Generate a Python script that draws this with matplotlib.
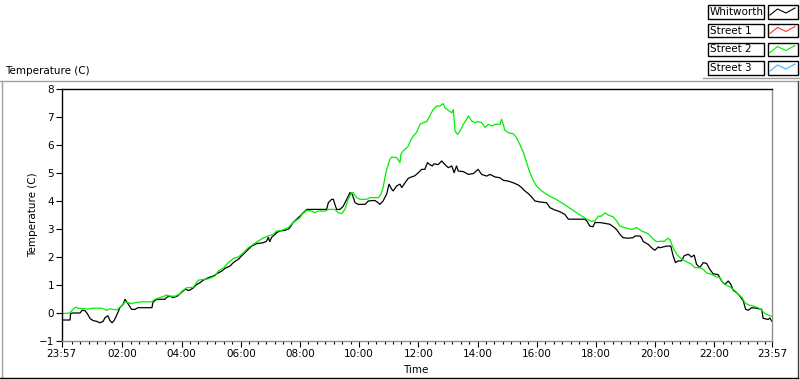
import matplotlib
matplotlib.use("Agg")
import matplotlib.pyplot as plt
from matplotlib.patches import Rectangle
from matplotlib.lines import Line2D

# =========================================================
# DATA  (time in hours after midnight, 23:57 the day before = -0.05)
# =========================================================

whit_t = [
    -0.05, 0.23, 0.25, 0.33, 0.57, 0.64, 0.74, 0.80, 0.86, 0.91,
    1.01, 1.14, 1.24, 1.35, 1.41, 1.51, 1.58, 1.65, 1.72, 1.82,
    1.92, 2.02, 2.09, 2.18, 2.26, 2.31, 2.43, 2.53, 3.00, 3.03,
    3.10, 3.17, 3.44, 3.51, 3.61, 3.71, 3.85, 3.95, 4.12, 4.25,
    4.40, 4.51, 4.62, 4.73, 4.90, 5.07, 5.19, 5.36, 5.47, 5.64,
    5.75, 5.92, 6.03, 6.14, 6.25, 6.37, 6.54, 6.76, 6.87, 6.93,
    6.98, 7.04, 7.16, 7.21, 7.33, 7.49, 7.61, 7.66, 7.77, 7.89,
    8.00, 8.11, 8.23, 8.90, 8.96, 9.07, 9.13, 9.18, 9.24, 9.35,
    9.46, 9.58, 9.69, 9.77, 9.86, 9.97, 10.20, 10.31, 10.53, 10.64,
    10.70, 10.81, 10.93, 11.01, 11.10, 11.15, 11.27, 11.38, 11.44, 11.55,
    11.66, 11.77, 11.88, 11.99, 12.11, 12.22, 12.31, 12.39, 12.47, 12.53,
    12.67, 12.79, 12.90, 13.01, 13.13, 13.21, 13.29, 13.35, 13.52, 13.69,
    13.86, 14.02, 14.14, 14.31, 14.42, 14.59, 14.76, 14.87, 15.04, 15.21,
    15.38, 15.49, 15.60, 15.72, 15.83, 15.94, 16.14, 16.33, 16.45, 16.61,
    16.78, 16.95, 17.07, 17.63, 17.69, 17.80, 17.90, 17.97, 18.14, 18.31,
    18.47, 18.59, 18.70, 18.81, 18.92, 19.09, 19.26, 19.32, 19.49, 19.54,
    19.60, 19.77, 19.88, 19.99, 20.11, 20.16, 20.39, 20.53, 20.61, 20.69,
    20.78, 20.89, 20.98, 21.12, 21.23, 21.32, 21.40, 21.51, 21.63, 21.74,
    21.85, 21.96, 22.13, 22.25, 22.36, 22.47, 22.56, 22.64, 22.75, 22.86,
    22.98, 23.06, 23.15, 23.26, 23.43, 23.60, 23.65, 23.82, 23.88, 23.94,
]
whit_v = [
    -0.25, -0.25, -0.02, 0.00, 0.00, 0.10, 0.08, 0.00, -0.10, -0.20,
    -0.27, -0.30, -0.35, -0.30, -0.17, -0.10, -0.27, -0.35, -0.27, -0.05,
    0.20, 0.30, 0.49, 0.35, 0.21, 0.13, 0.13, 0.19, 0.19, 0.37,
    0.45, 0.49, 0.49, 0.57, 0.60, 0.55, 0.60, 0.69, 0.85, 0.80,
    0.90, 1.02, 1.08, 1.17, 1.26, 1.32, 1.40, 1.50, 1.60, 1.68,
    1.80, 1.92, 2.04, 2.15, 2.27, 2.39, 2.48, 2.51, 2.56, 2.70,
    2.55, 2.70, 2.81, 2.87, 2.93, 2.95, 3.00, 3.05, 3.23, 3.35,
    3.46, 3.58, 3.70, 3.70, 3.94, 4.06, 4.06, 3.88, 3.70, 3.70,
    3.81, 4.06, 4.30, 4.24, 3.94, 3.88, 3.88, 4.00, 4.02, 3.94,
    3.88, 4.00, 4.25, 4.60, 4.42, 4.36, 4.54, 4.60, 4.48, 4.65,
    4.81, 4.86, 4.90, 5.00, 5.13, 5.13, 5.37, 5.30, 5.25, 5.33,
    5.30, 5.43, 5.30, 5.19, 5.25, 5.01, 5.25, 5.07, 5.05, 4.95,
    4.98, 5.13, 4.95, 4.89, 4.95, 4.86, 4.83, 4.74, 4.71, 4.65,
    4.57, 4.48, 4.36, 4.26, 4.14, 4.00, 3.96, 3.94, 3.76, 3.68,
    3.62, 3.52, 3.35, 3.35, 3.29, 3.10, 3.08, 3.23, 3.23, 3.20,
    3.17, 3.08, 2.98, 2.81, 2.69, 2.67, 2.69, 2.75, 2.75, 2.69,
    2.55, 2.45, 2.33, 2.24, 2.36, 2.33, 2.39, 2.39, 2.04, 1.80,
    1.86, 1.86, 2.04, 2.10, 2.00, 2.07, 1.74, 1.62, 1.80, 1.77,
    1.56, 1.40, 1.37, 1.14, 1.02, 1.14, 1.02, 0.81, 0.73, 0.61,
    0.43, 0.13, 0.10, 0.19, 0.17, 0.13, -0.19, -0.23, -0.18, -0.29,
]

st2_t = [
    -0.05, 0.00, 0.23, 0.33, 0.42, 0.50, 0.85, 1.01, 1.30, 1.47,
    1.58, 1.81, 1.92, 2.02, 2.09, 2.20, 2.31, 2.43, 2.65, 2.99,
    3.10, 3.33, 3.50, 3.61, 3.78, 3.95, 4.00, 4.17, 4.40, 4.56,
    4.73, 4.90, 5.13, 5.24, 5.41, 5.58, 5.75, 5.92, 6.09, 6.25,
    6.42, 6.59, 6.76, 6.93, 7.10, 7.21, 7.38, 7.61, 7.77, 8.00,
    8.06, 8.23, 8.40, 8.51, 8.62, 8.85, 8.96, 9.18, 9.30, 9.41,
    9.52, 9.63, 9.75, 9.80, 9.92, 10.03, 10.25, 10.37, 10.65, 10.74,
    10.81, 10.87, 10.93, 11.04, 11.10, 11.27, 11.38, 11.41, 11.49, 11.66,
    11.72, 11.83, 11.94, 12.06, 12.17, 12.28, 12.39, 12.50, 12.62, 12.73,
    12.84, 12.90, 13.01, 13.13, 13.18, 13.24, 13.33, 13.41, 13.52, 13.63,
    13.69, 13.80, 13.91, 14.02, 14.14, 14.25, 14.36, 14.48, 14.59, 14.76,
    14.81, 14.87, 14.92, 15.04, 15.21, 15.32, 15.43, 15.55, 15.66, 15.77,
    15.88, 15.99, 16.17, 16.33, 16.50, 16.67, 16.84, 17.01, 17.18, 17.35,
    17.52, 17.69, 17.86, 17.97, 18.08, 18.19, 18.31, 18.42, 18.59, 18.70,
    18.81, 18.98, 19.21, 19.38, 19.54, 19.77, 19.94, 20.05, 20.33, 20.42,
    20.50, 20.61, 20.73, 20.84, 21.01, 21.23, 21.34, 21.51, 21.63, 21.74,
    21.91, 22.08, 22.19, 22.25, 22.36, 22.53, 22.70, 22.81, 22.94, 23.03,
    23.15, 23.32, 23.48, 23.60, 23.71, 23.88, 23.94,
]
st2_v = [
    -0.05, -0.02, 0.00, 0.13, 0.21, 0.17, 0.14, 0.17, 0.17, 0.10,
    0.15, 0.11, 0.21, 0.30, 0.40, 0.37, 0.33, 0.37, 0.40, 0.40,
    0.49, 0.57, 0.64, 0.60, 0.60, 0.69, 0.77, 0.90, 0.92, 1.17,
    1.20, 1.22, 1.32, 1.50, 1.60, 1.80, 1.95, 2.00, 2.15, 2.33,
    2.45, 2.57, 2.68, 2.75, 2.81, 2.93, 2.95, 3.05, 3.23, 3.40,
    3.52, 3.67, 3.64, 3.58, 3.64, 3.64, 3.70, 3.70, 3.58, 3.55,
    3.70, 4.06, 4.30, 4.30, 4.12, 4.06, 4.06, 4.12, 4.12, 4.25,
    4.48, 4.83, 5.13, 5.49, 5.57, 5.55, 5.37, 5.67, 5.79, 5.96,
    6.13, 6.32, 6.45, 6.74, 6.80, 6.83, 7.04, 7.27, 7.39, 7.39,
    7.48, 7.33, 7.24, 7.15, 7.27, 6.50, 6.38, 6.50, 6.74, 6.92,
    7.04, 6.86, 6.80, 6.83, 6.80, 6.63, 6.74, 6.68, 6.74, 6.74,
    6.92, 6.74, 6.53, 6.44, 6.40, 6.26, 6.02, 5.73, 5.37, 5.01,
    4.74, 4.54, 4.36, 4.24, 4.14, 4.05, 3.94, 3.82, 3.70, 3.58,
    3.46, 3.35, 3.27, 3.29, 3.46, 3.46, 3.58, 3.50, 3.43, 3.29,
    3.10, 3.05, 2.98, 3.05, 2.93, 2.83, 2.63, 2.55, 2.57, 2.67,
    2.62, 2.33, 2.10, 1.98, 1.86, 1.74, 1.62, 1.62, 1.56, 1.43,
    1.38, 1.29, 1.26, 1.14, 1.02, 0.93, 0.79, 0.67, 0.55, 0.37,
    0.29, 0.25, 0.19, 0.10, -0.02, -0.10, -0.12,
]

xtick_pos = [-0.05, 2, 4, 6, 8, 10, 12, 14, 16, 18, 20, 22, 23.95]
xtick_labels = ["23:57", "02:00", "04:00", "06:00", "08:00", "10:00", "12:00",
                "14:00", "16:00", "18:00", "20:00", "22:00", "23:57"]
yticks = [-1, 0, 1, 2, 3, 4, 5, 6, 7, 8]

legend_names = ["Whitworth", "Street 1", "Street 2", "Street 3"]
legend_colors = ["black", "#ff3030", "#00ee00", "#30b8ff"]

# =========================================================
# FIGURE
# =========================================================

W, H = 800, 380
plt.rcParams["font.family"] = "DejaVu Sans"

fig = plt.figure(figsize=(W / 100, H / 100), dpi=100)
fig.patch.set_facecolor("white")


def fx(px):
    return px / W


def fy(py):
    return 1 - py / H


# outer panel frame
fig.add_artist(Line2D([fx(0), fx(797)], [fy(80.5), fy(80.5)], color="#a0a0a0", lw=1))
fig.add_artist(Line2D([fx(1.5), fx(1.5)], [fy(80.5), fy(378)], color="#a0a0a0", lw=1))
fig.add_artist(Line2D([fx(797.5), fx(797.5)], [fy(80.5), fy(378)], color="#404040", lw=1))
fig.add_artist(Line2D([fx(0), fx(798)], [fy(377.5), fy(377.5)], color="black", lw=1))

fig.text(fx(5), fy(71), "Temperature (C)", fontsize=7.5, ha="left", va="center")

# plot area
ax = fig.add_axes([fx(61.7), fy(341), fx(772 - 61.7), (341 - 89) / H])

ax.plot(whit_t, whit_v, color="black", lw=0.9)
ax.plot(st2_t, st2_v, color="#00ee00", lw=0.9)

ax.set_xlim(xtick_pos[0], xtick_pos[-1])
ax.set_ylim(yticks[0], yticks[-1])

ax.set_xticks(xtick_pos)
ax.set_xticklabels(xtick_labels)
minor = [k * 2 / 7 for k in range(0, 84) if k % 7 != 0]
ax.set_xticks(minor, minor=True)
ax.set_yticks(yticks)

ax.tick_params(axis="both", which="major", labelsize=7.5, length=4, width=0.8,
               color="black", pad=1.5)
ax.tick_params(axis="x", which="minor", length=2.5, width=0.8, color="black")

for side in ["top", "left"]:
    ax.spines[side].set_color("black")
    ax.spines[side].set_linewidth(1.0)
for side in ["bottom", "right"]:
    ax.spines[side].set_color("#909090")
    ax.spines[side].set_linewidth(1.0)

fig.text(fx(33), fy(215), "Temperature (C)", fontsize=7.5, rotation=90,
         ha="center", va="center")
fig.text(fx(416), fy(370), "Time", fontsize=7.5, ha="center", va="center")

# legend (top right)
row_top = [5, 23.5, 42.5, 61]
for name, col, top in zip(legend_names, legend_colors, row_top):
    fig.add_artist(Rectangle((fx(708), fy(top + 13.5)), fx(55.5), 13.5 / H,
                             fill=False, edgecolor="black", lw=1))
    fig.add_artist(Rectangle((fx(768), fy(top + 13.5)), fx(29.5), 13.5 / H,
                             fill=False, edgecolor="black", lw=1))
    fig.text(fx(710), fy(top + 7), name, fontsize=7.5, ha="left", va="center")
    zx = [770, 777.5, 786, 795]
    zy = [top + 10, top + 4, top + 8, top + 3]
    fig.add_artist(Line2D([fx(v) for v in zx], [fy(v) for v in zy], color=col, lw=0.8))

fig.add_artist(Line2D([fx(799.5), fx(799.5)], [fy(0), fy(77.5)], color="#a0a0a0", lw=1))
fig.add_artist(Line2D([fx(703), fx(800)], [fy(77.5), fy(77.5)], color="#a0a0a0", lw=1))

fig.savefig("out.png", dpi=100)
